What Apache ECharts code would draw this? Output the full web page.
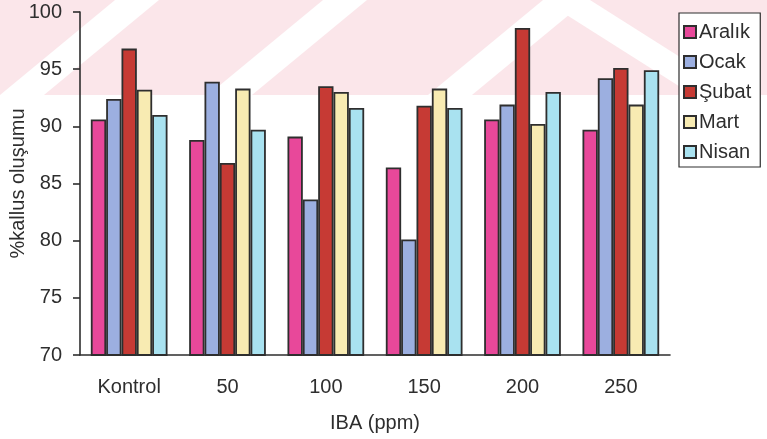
<!DOCTYPE html>
<html>
<head>
<meta charset="utf-8">
<script src="https://cdn.jsdelivr.net/npm/echarts@6/dist/echarts.min.js"></script>
<style>
html,body{margin:0;padding:0;background:#fff;}
#chart{width:767px;height:439px;}
</style>
</head>
<body>
<div id="chart"></div>
<script>
// IBA dose groups on the x axis
const categories = ['Kontrol', '50', '100', '150', '200', '250'];

// Callus formation (%) per month
const aralik = [90.6, 88.8, 89.1, 86.4, 90.6, 89.7];
const ocak   = [92.4, 93.9, 83.6, 80.1, 91.9, 94.2];
const subat  = [96.8, 86.8, 93.5, 91.8, 98.6, 95.1];
const mart   = [93.2, 93.3, 93.0, 93.3, 90.2, 91.9];
const nisan  = [91.0, 89.7, 91.6, 91.6, 93.0, 94.9];

const seriesNames = ['Aralık', 'Ocak', 'Şubat', 'Mart', 'Nisan'];
const seriesData = [aralik, ocak, subat, mart, nisan];
const colors = ['#e8489a', '#9cafe0', '#c63a34', '#f8ebb2', '#a9e2f0'];

const font = 'Liberation Sans, Arial, sans-serif';
const ink = '#2e2e2e';

// Faint pink striped band behind the upper part of the page
const bandHeight = 95;
const stripeBottoms = [0, 208, 428];
const stripeShift = 115;
const stripeWidth = 44;
const band = [{
  type: 'rect', z: -10, silent: true,
  shape: { x: 0, y: 0, width: 767, height: bandHeight },
  style: { fill: 'rgba(236,130,150,0.2)' }
}];
stripeBottoms.forEach(b => {
  band.push({
    type: 'polygon', z: -9, silent: true,
    shape: { points: [[b, bandHeight], [b + stripeWidth, bandHeight],
                      [b + stripeWidth + stripeShift, 0], [b + stripeShift, 0]] },
    style: { fill: '#ffffff' }
  });
});
// right leg of the peaked stripe
band.push({
  type: 'polygon', z: -9, silent: true,
  shape: { points: [[543, 0], [590, 0], [740, bandHeight], [693, bandHeight]] },
  style: { fill: '#ffffff' }
});

const chart = echarts.init(document.getElementById('chart'));
chart.setOption({
  animation: false,
  backgroundColor: '#ffffff',
  graphic: band,
  grid: { left: 80, right: 97, top: 12, bottom: 84, outerBoundsMode: 'none', containLabel: false },
  legend: {
    orient: 'vertical',
    left: 679,
    top: 13,
    data: seriesNames,
    itemWidth: 12,
    itemHeight: 12,
    itemGap: 10,
    icon: 'rect',
    padding: [9, 9, 5, 4],
    backgroundColor: '#ffffff',
    borderColor: ink,
    borderWidth: 1.2,
    textStyle: { fontFamily: font, fontSize: 20, lineHeight: 20, color: ink, padding: [0, 0, 0, -2] }
  },
  xAxis: {
    type: 'category',
    data: categories,
    name: 'IBA (ppm)',
    nameLocation: 'middle',
    nameGap: 58,
    nameMoveOverlap: false,
    nameTextStyle: { fontFamily: font, fontSize: 20, color: ink },
    axisLine: { lineStyle: { color: ink, width: 1.6 } },
    axisTick: { length: 8, lineStyle: { color: ink, width: 1.6 } },
    axisLabel: { fontFamily: font, fontSize: 20, color: ink, margin: 22 }
  },
  yAxis: {
    type: 'value',
    min: 70,
    max: 100,
    interval: 5,
    name: '%kallus oluşumu',
    nameLocation: 'middle',
    nameGap: 52,
    nameMoveOverlap: false,
    nameTextStyle: { fontFamily: font, fontSize: 20, color: ink },
    axisLine: { show: true, lineStyle: { color: ink, width: 1.6 } },
    axisTick: { show: true, length: 7, lineStyle: { color: ink, width: 1.6 } },
    axisLabel: { fontFamily: font, fontSize: 20, color: ink, margin: 18 },
    splitLine: { show: false }
  },
  series: seriesNames.map((name, i) => ({
    name: name,
    type: 'bar',
    data: seriesData[i],
    barGap: '0%',
    barCategoryGap: '22%',
    itemStyle: { color: colors[i], borderColor: ink, borderWidth: 1.8 }
  }))
});
</script>
</body>
</html>
